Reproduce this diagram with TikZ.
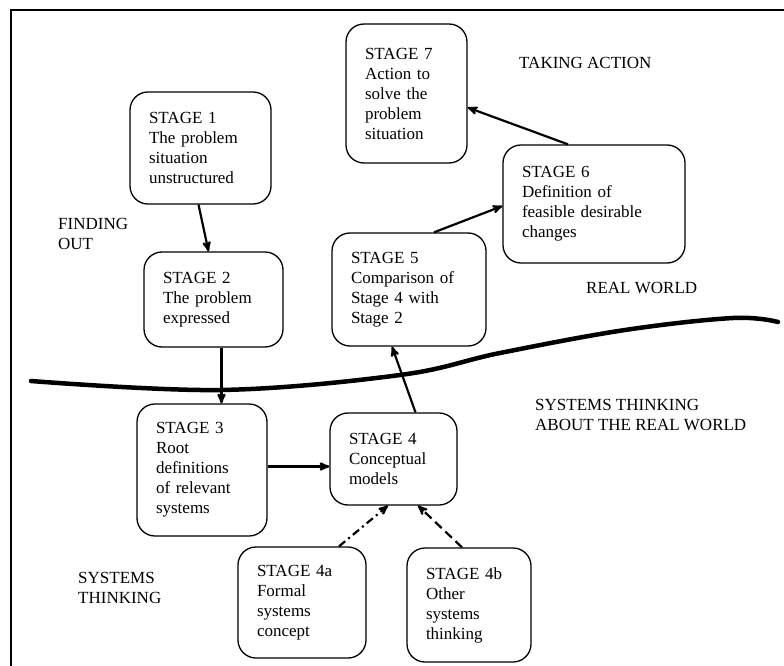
\documentclass[tikz,border=0pt]{standalone}
\usepackage{fontspec}
\setmainfont{Liberation Serif}
\usetikzlibrary{arrows}
\usetikzlibrary{calc}
\tikzset{
    stg_box/.style = {draw=black, line width=1.3pt, rounded corners=18pt, align=left,
        inner xsep=19pt, inner ysep=0pt, font=\fontsize{17}{20}\selectfont},% stage box
    stg_lbl/.style = {anchor=west, align=left, inner sep=0pt,
        font=\fontsize{17}{20}\selectfont},% region label
    stg_arr/.style = {line width=2.2pt},% link between stages
}

\begin{document}
\begin{tikzpicture}[->,>=stealth',x=1pt,y=-1pt]
\useasboundingbox (0,0) rectangle (784,666);
% frame
\draw[-, line width=1.4pt] (11,666) -- (11,10) -- (784,10);
% stages
\node[stg_box, text width=103pt, minimum height=112pt] (s1) at (200.5,148) {STAGE 1\\The problem\\situation\\unstructured};
\node[stg_box, text width=101pt, minimum height=95pt] (s2) at (213.5,299.5) {STAGE 2\\The problem\\expressed};
\node[stg_box, text width=92pt, minimum height=132pt] (s3) at (202,470) {STAGE 3\\Root\\definitions\\of relevant\\systems};
\node[stg_box, text width=89pt, minimum height=92pt] (s4) at (393.5,459) {STAGE 4\\Conceptual\\models};
\node[stg_box, text width=90pt, minimum height=111pt] (s4a) at (302,602.5) {STAGE 4a\\Formal\\systems\\concept};
\node[stg_box, text width=86pt, minimum height=114pt] (s4b) at (469,605) {STAGE 4b\\Other\\systems\\thinking};
\node[stg_box, text width=116pt, minimum height=113pt] (s5) at (409,289.5) {STAGE 5\\Comparison of\\Stage 4 with\\Stage 2};
\node[stg_box, text width=144pt, minimum height=118pt] (s6) at (594,204) {STAGE 6\\Definition of\\feasible desirable\\changes};
\node[stg_box, text width=83pt, minimum height=139pt] (s7) at (406.5,93.5) {STAGE 7\\Action to\\solve the\\problem\\situation};
% region labels
\node[stg_lbl] (act) at (519,63) {TAKING ACTION};
\node[stg_lbl] (find) at (58,233.5) {FINDING\\OUT};
\node[stg_lbl] (real) at (586,288) {REAL WORLD};
\node[stg_lbl] (about) at (535,414.5) {SYSTEMS THINKING\\ABOUT THE REAL WORLD};
\node[stg_lbl] (think) at (78,587.5) {SYSTEMS\\THINKING};
% the line between real world and systems thinking
\draw[-, line width=4.5pt, line cap=round] plot[smooth, tension=0.6] coordinates {(31,381) (220,390) (400,375) (500,353) (625,330) (733,318) (778,322)};
% links
\draw[stg_arr] ([xshift=-2pt]s1.south) -- ([xshift=-5pt]s2.north);
\draw[stg_arr] ([xshift=8pt]s2.south) -- ([xshift=8pt]s2.south |- s3.north);
\draw[stg_arr] ([yshift=3.5pt]s3.east) -- ([yshift=3.5pt]s3.east -| s4.west);
\draw[stg_arr] ([xshift=22pt]s4.north) -- ([xshift=-17pt]s5.south);
\draw[stg_arr] ([xshift=25pt]s5.north) -- ([yshift=-2pt]s6.west);
\draw[stg_arr] ([xshift=-26pt]s6.north) -- ([yshift=-14pt]s7.east);
\draw[stg_arr, dash pattern=on 8pt off 4pt on 2pt off 4pt] ([xshift=37pt]s4a.north) -- ([xshift=-5.5pt]s4.south);
\draw[stg_arr, dash pattern=on 9pt off 5pt] ([xshift=-7pt]s4b.north) -- ([xshift=24.5pt]s4.south);
\end{tikzpicture}
\end{document}
